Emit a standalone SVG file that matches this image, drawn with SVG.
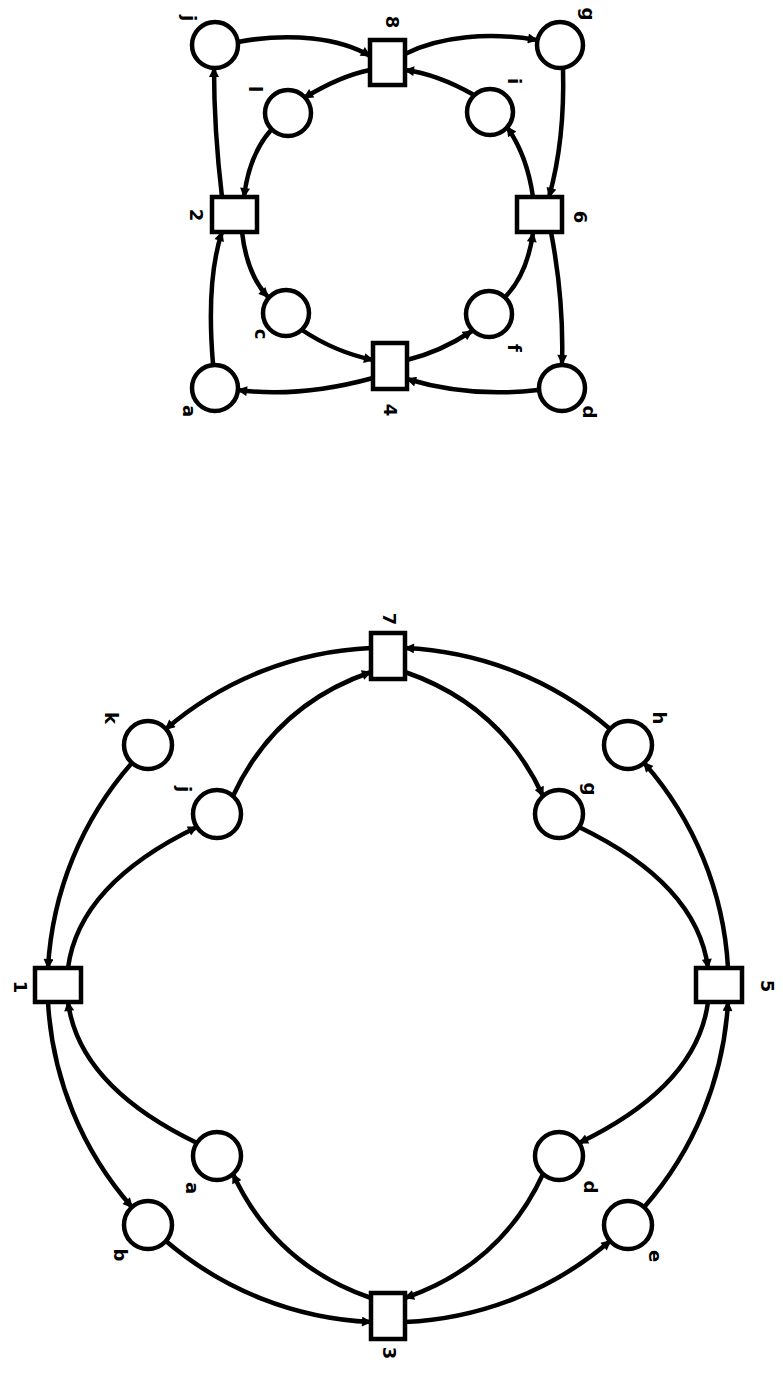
<svg xmlns="http://www.w3.org/2000/svg" width="783" height="1375" viewBox="0 0 783 1375">
<defs>
<marker id="arr" viewBox="0 0 10 10" refX="9" refY="5" markerWidth="11" markerHeight="10" markerUnits="userSpaceOnUse" orient="auto">
<path d="M0,0 L10,5 L0,10 z" fill="#000"/>
</marker>
</defs>
<style>
.e{fill:none;stroke:#000;stroke-width:4.5;marker-end:url(#arr)}
.p{fill:#fff;stroke:#000;stroke-width:4.5}
.t{fill:#fff;stroke:#000;stroke-width:4.5}
.l{font-family:"DejaVu Sans",sans-serif;font-weight:bold;font-size:18px;fill:#000;text-anchor:middle;dominant-baseline:central}
</style>
<rect width="783" height="1375" fill="#fff"/>
<g id="connectors">
<!-- top net outer -->
<path class="e" d="M222 197 Q214 130 214 68"/>
<path class="e" d="M238 42 C290 32 340 38 370 56"/>
<path class="e" d="M405 54 C440 36 490 32 537 40"/>
<path class="e" d="M563 68 Q565 140 549 197"/>
<path class="e" d="M551 232 Q564 300 562 364"/>
<path class="e" d="M538 390 Q470 398 407 379"/>
<path class="e" d="M373 378 Q300 398 238 390"/>
<path class="e" d="M213 364 Q206 280 222 232"/>
<!-- top net inner -->
<path class="e" d="M370 70 Q340 76 304 98"/>
<path class="e" d="M271 130 Q249 155 244 197"/>
<path class="e" d="M242 232 Q247 275 268 297"/>
<path class="e" d="M302 330 Q335 352 373 360"/>
<path class="e" d="M407 360 Q440 352 472 331"/>
<path class="e" d="M505 297 Q527 275 533 233"/>
<path class="e" d="M533 197 Q527 155 507 127"/>
<path class="e" d="M474 95 Q437 74 405 70"/>
<!-- bottom net outer -->
<path class="e" d="M371 648 A339 339 0 0 0 165.6 729.2"/>
<path class="e" d="M132.2 762.6 A339 339 0 0 0 48 968"/>
<path class="e" d="M48 1002 A339 339 0 0 0 132.2 1207.4"/>
<path class="e" d="M165.6 1240.8 A339 339 0 0 0 371 1322"/>
<path class="e" d="M405 1322 A339 339 0 0 0 610.4 1240.8"/>
<path class="e" d="M643.8 1207.4 A339 339 0 0 0 728 1002"/>
<path class="e" d="M728 968 A339 339 0 0 0 643.8 762.6"/>
<path class="e" d="M610.4 729.2 A339 339 0 0 0 405 648"/>
<!-- bottom net inner -->
<path class="e" d="M68 968 Q79 884 197 827"/>
<path class="e" d="M233 796 Q275 705 371 672"/>
<path class="e" d="M405 672 Q501 705 543 796"/>
<path class="e" d="M579 827 Q697 884 708 968"/>
<path class="e" d="M708 1002 Q697 1086 579 1143"/>
<path class="e" d="M543 1174 Q501 1265 405 1298"/>
<path class="e" d="M371 1298 Q275 1265 233 1174"/>
<path class="e" d="M197 1143 Q79 1086 68 1002"/>
</g>
<!-- top net nodes -->
<g id="t8"><rect class="t" x="370" y="40" width="35" height="45"/><text class="l" transform="translate(392,22) rotate(90)">8</text></g>
<g id="t2"><rect class="t" x="212" y="197" width="45" height="35"/><text class="l" transform="translate(196,215) rotate(90)">2</text></g>
<g id="t6"><rect class="t" x="517" y="197" width="45" height="35"/><text class="l" transform="translate(580,217) rotate(90)">6</text></g>
<g id="t4"><rect class="t" x="373" y="343" width="34" height="46"/><text class="l" transform="translate(390,410) rotate(90)">4</text></g>
<g id="pj1"><circle class="p" cx="215" cy="45" r="23"/><text class="l" transform="translate(189,18) rotate(90)">j</text></g>
<g id="pg1"><circle class="p" cx="560" cy="45" r="23"/><text class="l" transform="translate(588,14) rotate(90)">g</text></g>
<g id="pa1"><circle class="p" cx="215" cy="388" r="23"/><text class="l" transform="translate(189,411) rotate(90)">a</text></g>
<g id="pd1"><circle class="p" cx="562" cy="388" r="23"/><text class="l" transform="translate(589,412) rotate(90)">d</text></g>
<g id="pl1"><circle class="p" cx="288" cy="113" r="23"/><text class="l" transform="translate(255,89) rotate(90)">l</text></g>
<g id="pi1"><circle class="p" cx="490" cy="112" r="23"/><text class="l" transform="translate(514,81) rotate(90)">i</text></g>
<g id="pc1"><circle class="p" cx="286" cy="313" r="23"/><text class="l" transform="translate(261,334) rotate(90)">c</text></g>
<g id="pf1"><circle class="p" cx="489" cy="314" r="23"/><text class="l" transform="translate(514,348) rotate(90)">f</text></g>
<!-- bottom net nodes -->
<g id="t7"><rect class="t" x="371" y="633" width="34" height="46"/><text class="l" transform="translate(389,619) rotate(90)">7</text></g>
<g id="t1"><rect class="t" x="35" y="968" width="46" height="34"/><text class="l" transform="translate(20,987) rotate(90)">1</text></g>
<g id="t5"><rect class="t" x="696" y="968" width="46" height="34"/><text class="l" transform="translate(767,986) rotate(90)">5</text></g>
<g id="t3"><rect class="t" x="371" y="1293" width="34" height="46"/><text class="l" transform="translate(389,1353) rotate(90)">3</text></g>
<g id="pk"><circle class="p" cx="148" cy="745" r="24"/><text class="l" transform="translate(111,718) rotate(90)">k</text></g>
<g id="ph"><circle class="p" cx="628" cy="745" r="24"/><text class="l" transform="translate(659,718) rotate(90)">h</text></g>
<g id="pb"><circle class="p" cx="148" cy="1225" r="24"/><text class="l" transform="translate(120,1255) rotate(90)">b</text></g>
<g id="pe"><circle class="p" cx="628" cy="1225" r="24"/><text class="l" transform="translate(655,1256) rotate(90)">e</text></g>
<g id="pj2"><circle class="p" cx="217" cy="814" r="24"/><text class="l" transform="translate(184,789) rotate(90)">j</text></g>
<g id="pg2"><circle class="p" cx="559" cy="814" r="24"/><text class="l" transform="translate(590,789) rotate(90)">g</text></g>
<g id="pa2"><circle class="p" cx="217" cy="1156" r="24"/><text class="l" transform="translate(192,1188) rotate(90)">a</text></g>
<g id="pd2"><circle class="p" cx="559" cy="1156" r="24"/><text class="l" transform="translate(590,1187) rotate(90)">d</text></g>
</svg>
